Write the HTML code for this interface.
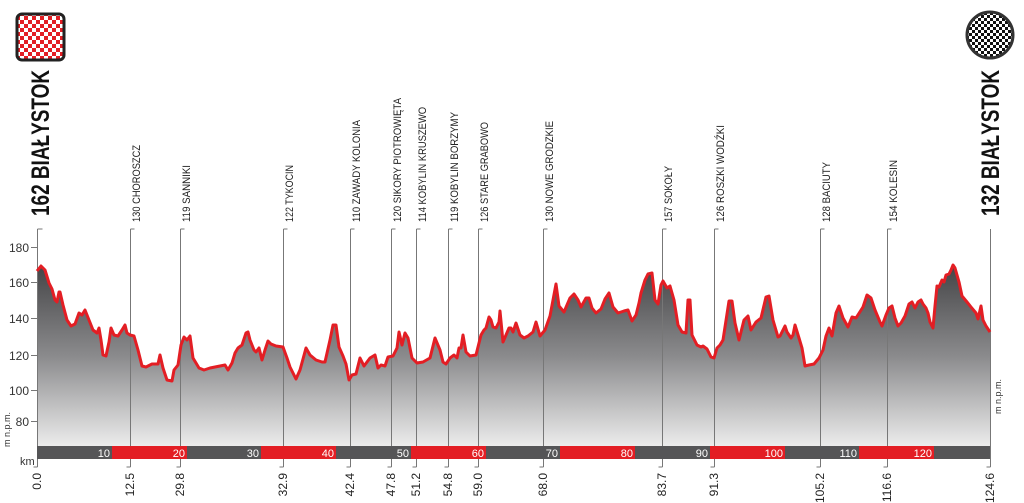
<!DOCTYPE html>
<html><head><meta charset="utf-8"><style>html,body{margin:0;padding:0;background:#fff}svg{display:block}</style></head>
<body>
<svg width="1024" height="503" viewBox="0 0 1024 503" xmlns="http://www.w3.org/2000/svg" font-family="Liberation Sans, sans-serif">
<defs>
<linearGradient id="g" x1="0" y1="0" x2="0" y2="1" gradientUnits="objectBoundingBox">
<stop offset="0" stop-color="#444446"/><stop offset="0.5" stop-color="#8a8a8c"/><stop offset="1" stop-color="#ececec"/>
</linearGradient>
<pattern id="chk" width="8" height="8" patternUnits="userSpaceOnUse"><rect width="8" height="8" fill="#fff"/><rect width="4" height="4" fill="#e31e24"/><rect x="4" y="4" width="4" height="4" fill="#e31e24"/></pattern>
<pattern id="chk2" width="6" height="6" patternUnits="userSpaceOnUse"><rect width="6" height="6" fill="#fff"/><rect width="3" height="3" fill="#111"/><rect x="3" y="3" width="3" height="3" fill="#111"/></pattern>
</defs>
<!-- flags -->
<rect x="17" y="14" width="47" height="46" rx="5" fill="url(#chk)" stroke="#222" stroke-width="3"/>
<circle cx="990" cy="35" r="23" fill="url(#chk2)" stroke="#333" stroke-width="3"/>
<!-- big titles -->
<text transform="translate(49,216) rotate(-90)" font-size="25" font-weight="bold" fill="#111" textLength="146" lengthAdjust="spacingAndGlyphs">162 BIAŁYSTOK</text>
<text transform="translate(999,216) rotate(-90)" font-size="25" font-weight="bold" fill="#111" textLength="146" lengthAdjust="spacingAndGlyphs">132 BIAŁYSTOK</text>
<!-- profile -->
<path fill="url(#g)" d="M37,446 L37,271 L41,266 L45,270 L49,283 L52,289 L55,300 L57,302 L59,292 L60,292 L63,305 L67,320 L71,326 L75,324 L79,313 L82,315 L85,310 L89,320 L93,330 L97,333 L99,328 L101,340 L103,355 L106,356 L109,342 L111,328 L114,335 L118,336 L122,330 L125,325 L127,333 L130,335 L134,336 L138,350 L142,366 L146,367 L152,364 L158,364 L160,355 L163,368 L167,380 L172,381 L174,370 L178,365 L181,345 L184,337 L187,340 L190,336 L193,358 L199,368 L204,370 L210,368 L220,366 L225,365 L228,370 L232,363 L235,353 L238,348 L242,345 L246,333 L248,332 L250,340 L254,350 L256,352 L259,348 L262,360 L265,350 L268,341 L271,344 L276,346 L283,347 L287,358 L290,367 L296,379 L300,370 L306,348 L310,355 L316,360 L322,362 L325,362 L330,340 L333,325 L336,325 L339,347 L343,356 L346,364 L349,380 L352,375 L356,374 L360,358 L364,366 L370,358 L375,355 L378,368 L381,365 L385,366 L388,357 L393,356 L397,348 L399,332 L402,345 L405,333 L408,338 L412,358 L417,363 L423,362 L430,358 L435,338 L440,350 L443,362 L446,364 L450,358 L454,355 L457,358 L459,348 L461,348 L463,335 L466,352 L470,356 L476,355 L481,335 L484,330 L486,328 L489,317 L491,320 L493,327 L496,328 L499,322 L500,311 L503,342 L506,335 L509,328 L511,328 L513,332 L516,323 L520,335 L524,338 L528,336 L533,332 L536,322 L540,336 L545,330 L550,316 L556,284 L559,306 L564,312 L570,298 L574,294 L578,300 L581,307 L586,298 L589,298 L592,308 L596,313 L601,309 L605,299 L609,293 L613,307 L618,313 L624,311 L628,310 L632,321 L636,315 L639,303 L641,293 L645,280 L648,274 L652,273 L655,300 L658,304 L661,285 L663,281 L667,288 L670,286 L674,300 L678,325 L682,332 L686,333 L688,300 L690,300 L692,335 L697,345 L701,347 L703,346 L707,349 L711,357 L714,358 L717,348 L720,345 L723,340 L729,301 L732,301 L735,323 L739,340 L744,320 L748,316 L751,330 L756,322 L761,318 L766,297 L769,296 L773,320 L778,337 L780,336 L782,332 L785,326 L787,332 L791,338 L793,335 L795,325 L799,338 L802,348 L805,366 L809,365 L814,364 L819,358 L823,350 L826,336 L829,328 L832,336 L836,313 L839,306 L843,318 L848,327 L852,317 L856,318 L863,307 L867,295 L871,298 L875,310 L880,322 L882,326 L886,315 L889,308 L892,306 L895,318 L898,326 L901,323 L905,316 L909,304 L912,302 L915,308 L918,302 L921,300 L923,304 L926,308 L928,313 L930,322 L933,328 L935,306 L937,286 L939,287 L942,280 L944,282 L946,275 L949,274 L951,270 L953,265 L955,268 L959,282 L962,296 L967,302 L971,307 L976,313 L978,319 L981,306 L983,320 L986,326 L990,332 L990,446 Z"/>
<!-- vertical marker lines -->
<g stroke="#777" stroke-width="1" fill="none">
<path d="M130.5,229 V467 M180.5,229 V467 M283.5,229 V467 M350.5,229 V467 M391.5,229 V467 M416.5,229 V467 M448.5,229 V467 M478.5,229 V467 M543.5,229 V467 M662.5,229 V467 M714.5,229 V467 M820.5,229 V467 M887.5,229 V467 M990.5,229 V467 M37.5,229 V467"/>
<path d="M130.5,229 h4 M180.5,229 h4 M283.5,229 h4 M350.5,229 h4 M391.5,229 h4 M416.5,229 h4 M448.5,229 h4 M478.5,229 h4 M543.5,229 h4 M662.5,229 h4 M714.5,229 h4 M820.5,229 h4 M887.5,229 h4 M37.5,229 h5"/>
<path d="M130.5,467 h-4 M180.5,467 h-4 M283.5,467 h-4 M350.5,467 h-4 M391.5,467 h-4 M416.5,467 h-4 M448.5,467 h-4 M478.5,467 h-4 M543.5,467 h-4 M662.5,467 h-4 M714.5,467 h-4 M820.5,467 h-4 M887.5,467 h-4 M990.5,467 h-4 M37.5,467 h-4"/>
<path d="M37,247.5 h-6 M37,282.5 h-6 M37,318.5 h-6 M37,355.5 h-6 M37,390.5 h-6 M37,421.5 h-6"/>
</g>
<!-- red line -->
<path fill="none" stroke="#e31e24" stroke-width="3" stroke-linejoin="round" d="M37,271 L41,266 L45,270 L49,283 L52,289 L55,300 L57,302 L59,292 L60,292 L63,305 L67,320 L71,326 L75,324 L79,313 L82,315 L85,310 L89,320 L93,330 L97,333 L99,328 L101,340 L103,355 L106,356 L109,342 L111,328 L114,335 L118,336 L122,330 L125,325 L127,333 L130,335 L134,336 L138,350 L142,366 L146,367 L152,364 L158,364 L160,355 L163,368 L167,380 L172,381 L174,370 L178,365 L181,345 L184,337 L187,340 L190,336 L193,358 L199,368 L204,370 L210,368 L220,366 L225,365 L228,370 L232,363 L235,353 L238,348 L242,345 L246,333 L248,332 L250,340 L254,350 L256,352 L259,348 L262,360 L265,350 L268,341 L271,344 L276,346 L283,347 L287,358 L290,367 L296,379 L300,370 L306,348 L310,355 L316,360 L322,362 L325,362 L330,340 L333,325 L336,325 L339,347 L343,356 L346,364 L349,380 L352,375 L356,374 L360,358 L364,366 L370,358 L375,355 L378,368 L381,365 L385,366 L388,357 L393,356 L397,348 L399,332 L402,345 L405,333 L408,338 L412,358 L417,363 L423,362 L430,358 L435,338 L440,350 L443,362 L446,364 L450,358 L454,355 L457,358 L459,348 L461,348 L463,335 L466,352 L470,356 L476,355 L481,335 L484,330 L486,328 L489,317 L491,320 L493,327 L496,328 L499,322 L500,311 L503,342 L506,335 L509,328 L511,328 L513,332 L516,323 L520,335 L524,338 L528,336 L533,332 L536,322 L540,336 L545,330 L550,316 L556,284 L559,306 L564,312 L570,298 L574,294 L578,300 L581,307 L586,298 L589,298 L592,308 L596,313 L601,309 L605,299 L609,293 L613,307 L618,313 L624,311 L628,310 L632,321 L636,315 L639,303 L641,293 L645,280 L648,274 L652,273 L655,300 L658,304 L661,285 L663,281 L667,288 L670,286 L674,300 L678,325 L682,332 L686,333 L688,300 L690,300 L692,335 L697,345 L701,347 L703,346 L707,349 L711,357 L714,358 L717,348 L720,345 L723,340 L729,301 L732,301 L735,323 L739,340 L744,320 L748,316 L751,330 L756,322 L761,318 L766,297 L769,296 L773,320 L778,337 L780,336 L782,332 L785,326 L787,332 L791,338 L793,335 L795,325 L799,338 L802,348 L805,366 L809,365 L814,364 L819,358 L823,350 L826,336 L829,328 L832,336 L836,313 L839,306 L843,318 L848,327 L852,317 L856,318 L863,307 L867,295 L871,298 L875,310 L880,322 L882,326 L886,315 L889,308 L892,306 L895,318 L898,326 L901,323 L905,316 L909,304 L912,302 L915,308 L918,302 L921,300 L923,304 L926,308 L928,313 L930,322 L933,328 L935,306 L937,286 L939,287 L942,280 L944,282 L946,275 L949,274 L951,270 L953,265 L955,268 L959,282 L962,296 L967,302 L971,307 L976,313 L978,319 L981,306 L983,320 L986,326 L990,332"/>
<!-- km bar -->
<rect x="37" y="446" width="953" height="13" fill="#555557"/>
<g fill="#e31e24">
<rect x="112" y="446" width="75" height="13"/><rect x="261" y="446" width="75" height="13"/><rect x="411" y="446" width="75" height="13"/><rect x="560" y="446" width="75" height="13"/><rect x="710" y="446" width="75" height="13"/><rect x="859" y="446" width="75" height="13"/>
</g>
<g font-size="11" fill="#fff" text-anchor="end">
<text x="110" y="457">10</text><text x="185" y="457">20</text><text x="259" y="457">30</text><text x="334" y="457">40</text><text x="409" y="457">50</text><text x="484" y="457">60</text><text x="558" y="457">70</text><text x="633" y="457">80</text><text x="708" y="457">90</text><text x="783" y="457">100</text><text x="857" y="457">110</text><text x="932" y="457">120</text>
</g>
<!-- y axis labels -->
<g font-size="12" fill="#333" text-anchor="end">
<text x="29" y="252">180</text><text x="29" y="287">160</text><text x="29" y="323">140</text><text x="29" y="360">120</text><text x="29" y="395">100</text><text x="29" y="426">80</text>
</g>
<text x="20" y="465" font-size="11" fill="#333">km</text>
<text transform="translate(10,447) rotate(-90)" font-size="9" fill="#333">m n.p.m.</text>
<text transform="translate(1001,414) rotate(-90)" font-size="9" fill="#333">m n.p.m.</text>
<!-- marker labels -->
<g font-size="11" fill="#222">
<text transform="translate(140,222) rotate(-90)" textLength="77" lengthAdjust="spacingAndGlyphs">130 CHOROSZCZ</text>
<text transform="translate(190,222) rotate(-90)" textLength="57" lengthAdjust="spacingAndGlyphs">119 SANNIKI</text>
<text transform="translate(293,222) rotate(-90)" textLength="57" lengthAdjust="spacingAndGlyphs">122 TYKOCIN</text>
<text transform="translate(360,222) rotate(-90)" textLength="102" lengthAdjust="spacingAndGlyphs">110 ZAWADY KOLONIA</text>
<text transform="translate(401,222) rotate(-90)" textLength="124" lengthAdjust="spacingAndGlyphs">120 SIKORY PIOTROWIĘTA</text>
<text transform="translate(426,222) rotate(-90)" textLength="115" lengthAdjust="spacingAndGlyphs">114 KOBYLIN KRUSZEWO</text>
<text transform="translate(458,222) rotate(-90)" textLength="110" lengthAdjust="spacingAndGlyphs">119 KOBYLIN BORZYMY</text>
<text transform="translate(488,222) rotate(-90)" textLength="100" lengthAdjust="spacingAndGlyphs">126 STARE GRABOWO</text>
<text transform="translate(553,222) rotate(-90)" textLength="101" lengthAdjust="spacingAndGlyphs">130 NOWE GRODZKIE</text>
<text transform="translate(672,222) rotate(-90)" textLength="56" lengthAdjust="spacingAndGlyphs">157 SOKOŁY</text>
<text transform="translate(724,222) rotate(-90)" textLength="97" lengthAdjust="spacingAndGlyphs">126 ROSZKI WODŹKI</text>
<text transform="translate(830,222) rotate(-90)" textLength="60" lengthAdjust="spacingAndGlyphs">128 BACIUTY</text>
<text transform="translate(897,222) rotate(-90)" textLength="62" lengthAdjust="spacingAndGlyphs">154 KOLESIN</text>
</g>
<!-- bottom km labels -->
<g font-size="12" fill="#222" text-anchor="end">
<text transform="translate(41,473) rotate(-90)">0.0</text>
<text transform="translate(134,473) rotate(-90)">12.5</text>
<text transform="translate(184,473) rotate(-90)">29.8</text>
<text transform="translate(287,473) rotate(-90)">32.9</text>
<text transform="translate(354,473) rotate(-90)">42.4</text>
<text transform="translate(395,473) rotate(-90)">47.8</text>
<text transform="translate(420,473) rotate(-90)">51.2</text>
<text transform="translate(452,473) rotate(-90)">54.8</text>
<text transform="translate(482,473) rotate(-90)">59.0</text>
<text transform="translate(547,473) rotate(-90)">68.0</text>
<text transform="translate(666,473) rotate(-90)">83.7</text>
<text transform="translate(718,473) rotate(-90)">91.3</text>
<text transform="translate(824,473) rotate(-90)">105.2</text>
<text transform="translate(891,473) rotate(-90)">116.6</text>
<text transform="translate(994,473) rotate(-90)">124.6</text>
</g>
</svg>
</body></html>
